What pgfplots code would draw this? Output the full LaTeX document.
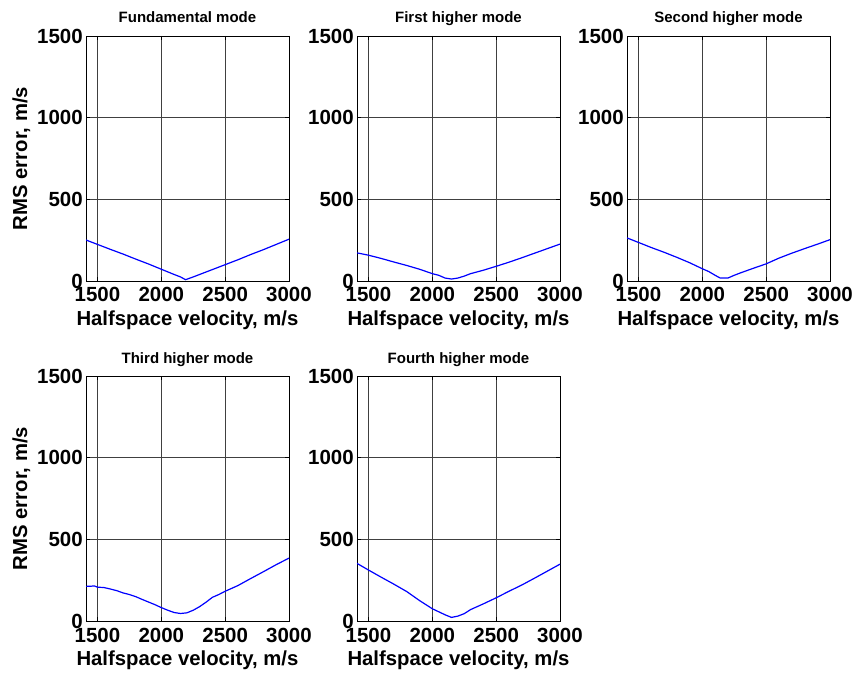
\documentclass[border=0pt]{standalone}
\usepackage{fontspec}
\setmainfont{Liberation Sans}
\usepackage{pgfplots}
\pgfplotsset{compat=1.18}
\pgfplotsset{
  myax/.style={
    scale only axis, width=203pt, height=245pt, anchor=south west,
    xmin=1410, xmax=3000, ymin=0, ymax=1500,
    xtick={1500,2000,2500,3000}, ytick={0,500,1000,1500},
    /pgf/number format/1000 sep={},
    /pgf/number format/assume math mode=true,
    tick align=inside, major tick length=4pt,
    grid=major, major grid style={black!75, line width=0.6pt},
    axis line style={black, line width=0.8pt},
    tick style={black, line width=0.6pt},
    ticklabel style={font=\bfseries\fontsize{20.5}{22}\selectfont, inner sep=0pt},
    xticklabel style={anchor=base, yshift=-21pt},
    yticklabel style={anchor=east, xshift=-3pt},
    every axis title/.style={at={(axis description cs:0.5,1)}, anchor=base, yshift=13pt, inner sep=0pt, font=\bfseries\fontsize{15}{17}\selectfont},
    every axis x label/.style={at={(axis description cs:0.5,-0.1796)}, anchor=base, inner sep=0pt, font=\bfseries\fontsize{20.3}{22}\selectfont},
    every axis y label/.style={at={(axis description cs:-0.2906,0.5)}, rotate=90, anchor=base, inner sep=0pt, font=\bfseries\fontsize{20.3}{22}\selectfont},
    xlabel={Halfspace velocity, m/s},
    every axis plot/.append style={blue, line width=1.2pt, no markers},
  }
}
\begin{document}
\begin{tikzpicture}
\useasboundingbox (0,0) rectangle (857pt,673pt);
% Row 1
\begin{axis}[myax, at={(86pt,392pt)}, title={Fundamental mode}, ylabel={RMS error, m/s}]
\addplot coordinates {(1410,251) (1500,224) (1600,194) (1700,165) (1800,134) (1900,104) (2000,72) (2100,40) (2150,25) (2190,8) (2250,25) (2300,40) (2400,70) (2500,100) (2600,130) (2700,162) (2800,192) (2900,224) (3000,256)};
\end{axis}
\begin{axis}[myax, at={(357pt,392pt)}, title={First higher mode}]
\addplot coordinates {(1405,173) (1500,158) (1600,138) (1700,116) (1800,95) (1900,72) (2000,45) (2050,35) (2100,18) (2150,12) (2200,18) (2250,30) (2300,45) (2400,66) (2500,90) (2600,115) (2700,142) (2800,170) (2900,198) (3000,226)};
\end{axis}
\begin{axis}[myax, at={(627pt,392pt)}, title={Second higher mode}]
\addplot coordinates {(1406,265) (1500,236) (1600,205) (1700,176) (1800,145) (1900,112) (2000,75) (2050,58) (2100,35) (2140,18) (2200,18) (2250,35) (2300,50) (2400,78) (2500,105) (2600,140) (2700,170) (2800,198) (2900,225) (3000,253)};
\end{axis}
% Row 2
\begin{axis}[myax, at={(86pt,52pt)}, title={Third higher mode}, ylabel={RMS error, m/s}]
\addplot coordinates {(1410,212) (1450,213) (1475,215) (1500,207) (1550,205) (1600,196) (1650,186) (1700,172) (1750,162) (1800,149) (1850,132) (1900,116) (1950,100) (2000,82) (2050,66) (2100,52) (2150,46) (2200,50) (2250,66) (2300,88) (2350,115) (2400,145) (2450,162) (2500,182) (2600,217) (2700,260) (2800,302) (2900,345) (3000,385)};
\end{axis}
\begin{axis}[myax, at={(357pt,52pt)}, title={Fourth higher mode}]
\addplot coordinates {(1405,355) (1500,312) (1600,268) (1700,225) (1800,180) (1900,125) (2000,75) (2100,38) (2150,22) (2200,30) (2250,45) (2300,70) (2400,105) (2500,142) (2600,182) (2700,220) (2800,262) (2900,305) (3000,348)};
\end{axis}
\end{tikzpicture}
\end{document}
